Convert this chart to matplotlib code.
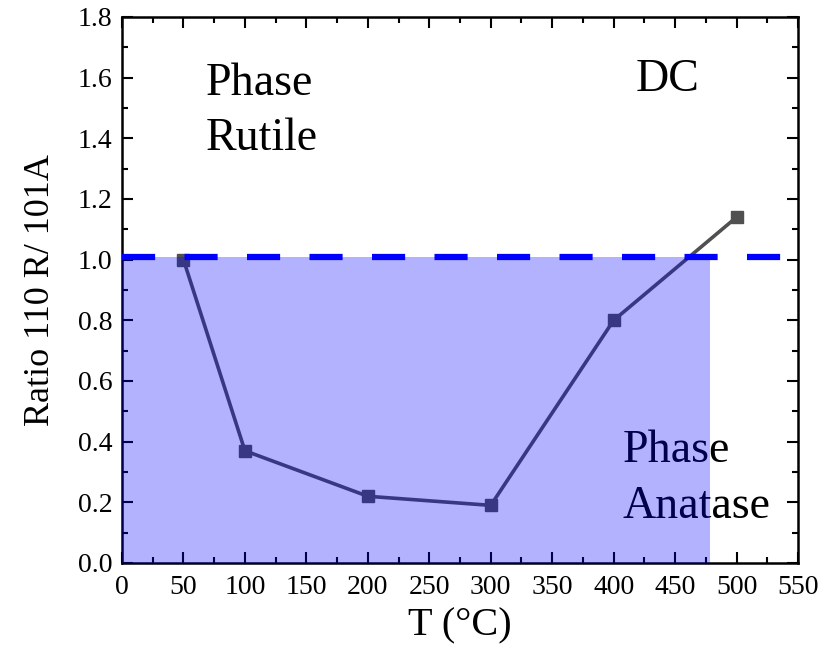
import matplotlib
matplotlib.use("Agg")
import matplotlib.pyplot as plt
from matplotlib.ticker import MultipleLocator

temps = [50, 100, 200, 300, 400, 500]
ratio = [1.00, 0.37, 0.22, 0.19, 0.80, 1.14]
threshold = 1.01
shade_x_end = 478
xticks = [0, 50, 100, 150, 200, 250, 300, 350, 400, 450, 500, 550]
yticks = [0.0, 0.2, 0.4, 0.6, 0.8, 1.0, 1.2, 1.4, 1.6, 1.8]

plt.rcParams['font.family'] = ['Liberation Serif', 'DejaVu Serif']
fig = plt.figure(figsize=(8.22, 6.6), dpi=100)
ax = fig.add_axes([122/822, 1-563/660, (798-122)/822, (563-17)/660])

ax.plot(temps, ratio, color='#505050', lw=2.6, marker='s', ms=9, zorder=2)
ax.fill_between([0, shade_x_end], [0, 0], [threshold, threshold], color='blue',
                alpha=0.3, lw=0, zorder=3)
ax.axhline(threshold, color='blue', lw=4.5, dashes=(5.3, 4.7), zorder=4)

tkw = dict(fontsize=33, va='baseline', ha='left', zorder=1)
ax.text(68, 1.543, 'Phase', **tkw)
ax.text(68, 1.362, 'Rutile', **tkw)
ax.text(444, 1.556, 'DC', fontsize=33, va='baseline', ha='center', zorder=1)
ax.text(407, 0.333, 'Phase', **tkw)
ax.text(407, 0.148, 'Anatase', **tkw)

ax.set_xlim(0, 550)
ax.set_ylim(0, 1.8)
ax.set_xticks(xticks)
ax.set_yticks(yticks)
ax.set_xticklabels([str(v) for v in xticks])
ax.set_yticklabels([f'{v:.1f}' for v in yticks])
ax.xaxis.set_minor_locator(MultipleLocator(25))
ax.yaxis.set_minor_locator(MultipleLocator(0.1))
ax.tick_params(which='both', direction='in', top=True, right=True, labelsize=20,
               width=1.5)
ax.tick_params(which='major', length=8)
ax.tick_params(which='minor', length=4.5)
ax.tick_params(axis='x', pad=9)
ax.tick_params(axis='y', pad=7)
for s in ax.spines.values():
    s.set_linewidth(1.8)

ax.set_xlabel('T (°C)', fontsize=29, labelpad=5)
ax.set_ylabel('Ratio 110 R/ 101A', fontsize=26, labelpad=15)

fig.savefig('out.png', dpi=100)
